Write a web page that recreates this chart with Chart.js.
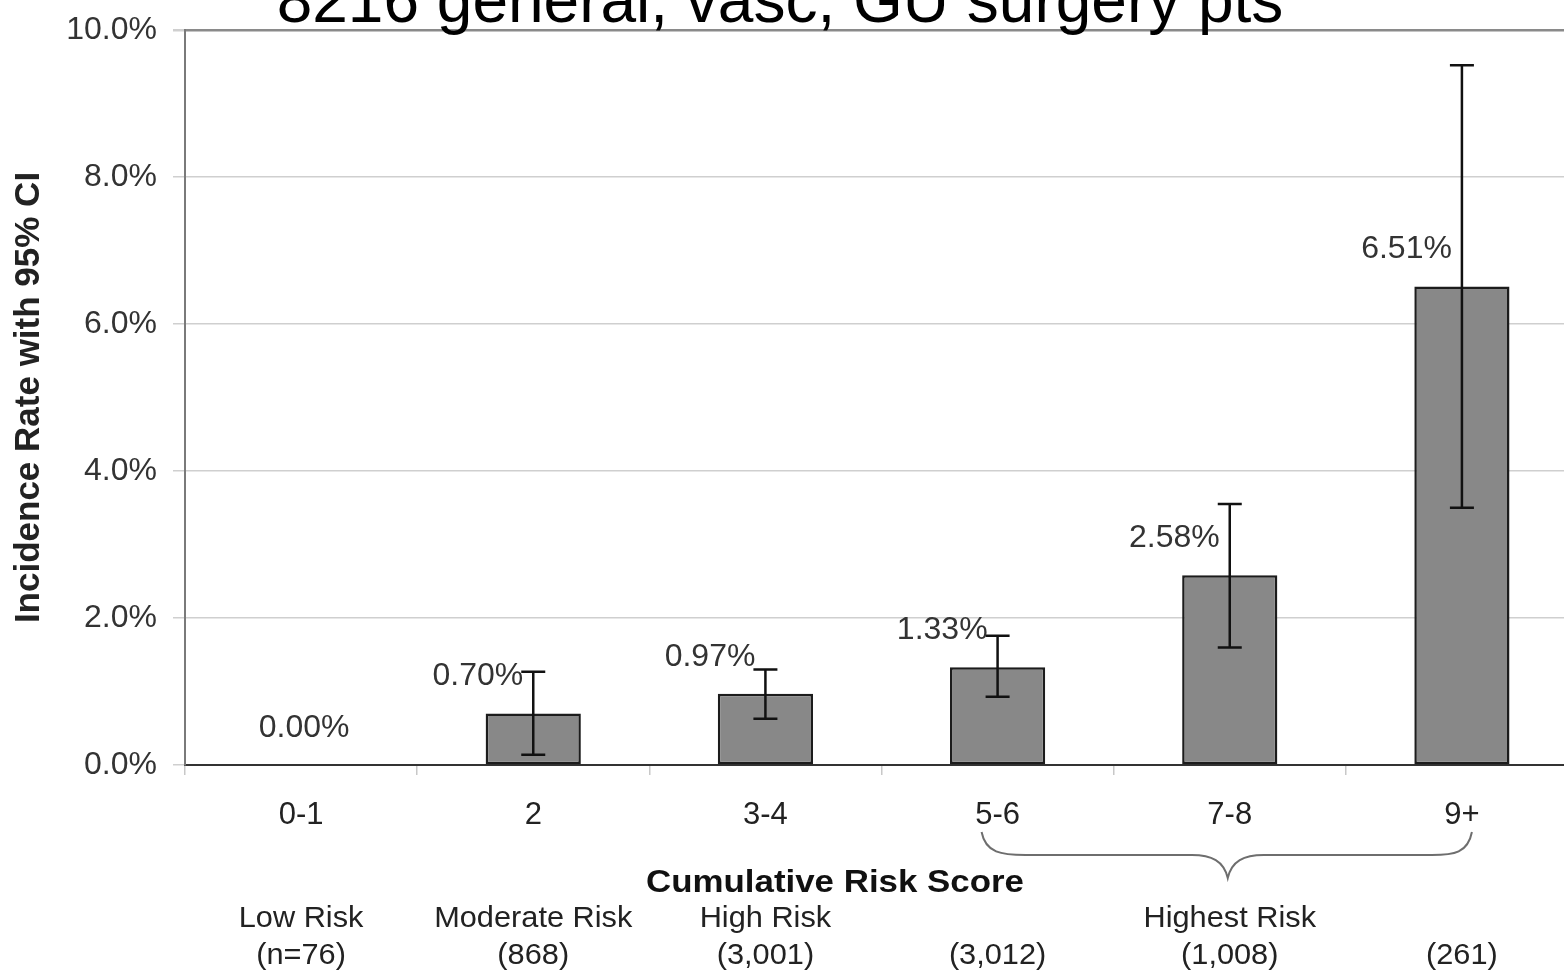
<!DOCTYPE html>
<html>
<head>
<meta charset="utf-8">
<title>Incidence rate by cumulative risk score</title>
<script src="https://cdn.jsdelivr.net/npm/chart.js@4/dist/chart.umd.min.js"></script>
<style>
  html, body { margin: 0; padding: 0; background: #ffffff; overflow: hidden; }
  #wrap { position: absolute; left: 0; top: 0; width: 1580px; height: 974px; }
</style>
</head>
<body>
<div id="wrap"><canvas id="chart" width="1580" height="974"></canvas></div>
<script>
// Cumulative risk score groups
const categories = ['0-1', '2', '3-4', '5-6', '7-8', '9+'];
// Incidence rate (%) per group
const incidence = [0.00, 0.70, 0.97, 1.33, 2.58, 6.51];
// 95% confidence interval bounds (%)
const ciLow  = [null, 0.14, 0.63, 0.93, 1.60, 3.50];
const ciHigh = [null, 1.27, 1.30, 1.76, 3.55, 9.52];
// Risk class and group size under each score group
const riskClass = ['Low Risk', 'Moderate Risk', 'High Risk', '', 'Highest Risk', ''];
const groupSize = ['(n=76)', '(868)', '(3,001)', '(3,012)', '(1,008)', '(261)'];
// Y axis tick values
const yTicks = [0, 2, 4, 6, 8, 10];

const FONT = "'Liberation Sans', Arial, Helvetica, sans-serif";

// Error bars with caps, drawn from the CI arrays through the y scale
const errorBars = {
  id: 'errorBars',
  afterDatasetsDraw(chart) {
    const { ctx, scales: { y } } = chart;
    const meta = chart.getDatasetMeta(0);
    ctx.save();
    ctx.strokeStyle = '#111111';
    ctx.lineWidth = 2.5;
    meta.data.forEach((bar, i) => {
      if (ciLow[i] == null || ciHigh[i] == null) return;
      const yl = y.getPixelForValue(ciLow[i]);
      const yh = y.getPixelForValue(ciHigh[i]);
      const x = bar.x;
      const cap = 12;
      ctx.beginPath();
      ctx.moveTo(x, yl); ctx.lineTo(x, yh);
      ctx.moveTo(x - cap, yh); ctx.lineTo(x + cap, yh);
      ctx.moveTo(x - cap, yl); ctx.lineTo(x + cap, yl);
      ctx.stroke();
    });
    ctx.restore();
  }
};

// Value labels above each bar, set just left of the whisker
const valueLabels = {
  id: 'valueLabels',
  afterDatasetsDraw(chart) {
    const { ctx } = chart;
    const meta = chart.getDatasetMeta(0);
    ctx.save();
    ctx.font = '32px ' + FONT;
    ctx.fillStyle = '#333333';
    ctx.textBaseline = 'middle';
    meta.data.forEach((bar, i) => {
      const txt = incidence[i].toFixed(2) + '%';
      if (ciHigh[i] == null) {
        ctx.textAlign = 'center';
        ctx.fillText(txt, bar.x + 3, bar.y - 37);
      } else {
        ctx.textAlign = 'right';
        ctx.fillText(txt, bar.x - 10, bar.y - 37);
      }
    });
    ctx.restore();
  }
};

// Title, brace over the highest-risk groups, axis caption and group notes
const annotations = {
  id: 'annotations',
  afterDraw(chart) {
    const { ctx, scales: { x } } = chart;
    ctx.save();

    // title along the top edge
    ctx.font = '64px ' + FONT;
    ctx.fillStyle = '#000000';
    ctx.textAlign = 'center';
    ctx.textBaseline = 'alphabetic';
    ctx.fillText('8216 general, vasc, GU surgery pts', 780, 22);

    // curly brace spanning 5-6 .. 9+
    const xl = x.getPixelForValue(3) - 16;
    const xr = x.getPixelForValue(5) + 10;
    const xm = x.getPixelForValue(4) - 2;
    const yTop = 832, yMid = 855, yTip = 878;
    ctx.strokeStyle = '#6e6e6e';
    ctx.lineWidth = 2;
    ctx.beginPath();
    ctx.moveTo(xl, yTop);
    ctx.bezierCurveTo(xl + 4, yMid - 2, xl + 20, yMid, xl + 44, yMid);
    ctx.lineTo(xm - 36, yMid);
    ctx.bezierCurveTo(xm - 16, yMid, xm - 4, yMid + 6, xm, yTip);
    ctx.bezierCurveTo(xm + 4, yMid + 6, xm + 16, yMid, xm + 36, yMid);
    ctx.lineTo(xr - 40, yMid);
    ctx.bezierCurveTo(xr - 18, yMid, xr - 4, yMid - 2, xr, yTop);
    ctx.stroke();

    // axis caption
    ctx.fillStyle = '#111111';
    ctx.textBaseline = 'middle';
    ctx.save();
    ctx.translate(835, 883);
    ctx.scale(1.09, 1);
    ctx.font = 'bold 32px ' + FONT;
    ctx.fillText('Cumulative Risk Score', 0, 0);
    ctx.restore();

    // risk class and group size below each category
    ctx.fillStyle = '#222222';
    categories.forEach((c, i) => {
      const cx = x.getPixelForValue(i);
      [[riskClass[i], 919], [groupSize[i], 956]].forEach(([t, ty]) => {
        if (!t) return;
        ctx.save();
        ctx.translate(cx, ty);
        ctx.scale(1.06, 1);
        ctx.font = '29px ' + FONT;
        ctx.fillText(t, 0, 0);
        ctx.restore();
      });
    });
    ctx.restore();
  }
};

new Chart(document.getElementById('chart'), {
  type: 'bar',
  data: {
    labels: categories,
    datasets: [{
      data: incidence,
      backgroundColor: '#888888',
      borderColor: '#1c1c1c',
      borderWidth: 2.5,
      borderSkipped: false,
      barPercentage: 0.41,
      categoryPercentage: 1.0
    }]
  },
  options: {
    responsive: false,
    devicePixelRatio: 1,
    animation: false,
    layout: { padding: { top: 30, left: 0, right: 2, bottom: 0 } },
    plugins: {
      legend: { display: false },
      tooltip: { enabled: false },
      title: { display: false }
    },
    scales: {
      x: {
        afterFit(scale) { scale.height = 209; },
        grid: {
          display: true,
          drawOnChartArea: false,
          drawTicks: true,
          tickLength: 10,
          color: '#c8c8c8',
          lineWidth: 1.5
        },
        border: { display: true, color: '#333333', width: 2 },
        ticks: {
          color: '#222222',
          font: { family: FONT, size: 31 },
          padding: 22,
          maxRotation: 0
        }
      },
      y: {
        min: 0,
        max: 10,
        afterFit(scale) {
          scale.width = 185;
          scale.paddingTop = 10;
          scale.paddingBottom = 10;
        },
        afterBuildTicks(scale) { scale.ticks = yTicks.map(v => ({ value: v })); },
        grid: {
          color: ctx => (ctx.tick && ctx.tick.value === 10) ? '#8a8a8a' : '#cfcfcf',
          lineWidth: ctx => (ctx.tick && ctx.tick.value === 10) ? 2.5 : 1.5,
          tickColor: '#cfcfcf',
          tickLength: 12,
          drawTicks: true
        },
        border: { display: true, color: '#7a7a7a', width: 2 },
        ticks: {
          color: '#333333',
          font: { family: FONT, size: 32 },
          padding: 16,
          callback: v => Number(v).toFixed(1) + '%'
        },
        title: {
          display: true,
          text: 'Incidence Rate with 95% CI',
          color: '#222222',
          font: { family: FONT, size: 35, weight: 'bold' },
          padding: { top: 8, bottom: 0 }
        }
      }
    }
  },
  plugins: [errorBars, valueLabels, annotations]
});
</script>
</body>
</html>
